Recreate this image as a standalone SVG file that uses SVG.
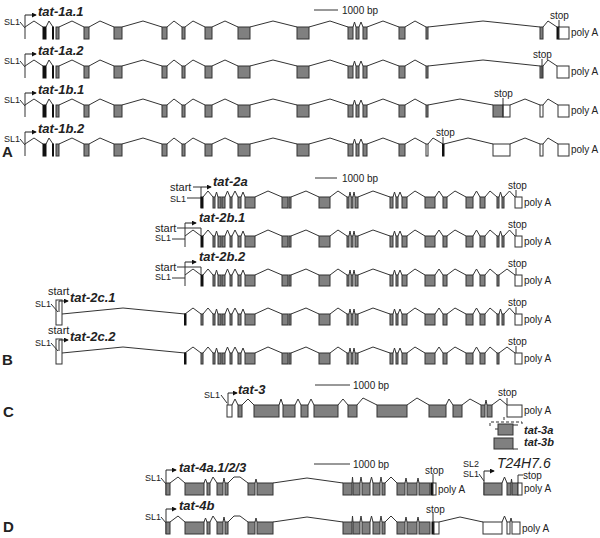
<svg xmlns="http://www.w3.org/2000/svg" width="600" height="538" viewBox="0 0 600 538">
<style>
.ln{fill:none;stroke:#333;stroke-width:1}
.ex{fill:#808080;stroke:#333;stroke-width:1}
.bk{fill:#111;stroke:#111;stroke-width:1}
.ut{fill:#fff;stroke:#333;stroke-width:1}
.dash{fill:none;stroke:#333;stroke-width:1;stroke-dasharray:3,2}
.ar{fill:none;stroke:#222;stroke-width:1;marker-end:url(#ah)}
text{font-family:"Liberation Sans",Arial,sans-serif;fill:#222}
.lab{font-size:13px;font-weight:bold;font-style:italic}
.sm{font-size:10px}
.sl{font-size:9px}
.st{font-size:11px}
.pl{font-size:15px;font-weight:bold}
</style>
<defs>
<marker id="ah" viewBox="0 0 6 6" refX="5" refY="3" markerWidth="5" markerHeight="5" orient="auto" markerUnits="userSpaceOnUse"><path d="M0,0 L6,3 L0,6 z" fill="#111"/></marker>
<g id="aCommon">
<text class="sl" x="4" y="-2">SL1</text>
<path class="ln" d="M20,-5 L25,1"/>
<path class="ln" d="M25,12 L25,-12"/>
<path class="ar" d="M25,-12 L36,-12"/>
<path class="ln" d="M25,0 L34,-6 L43,0 M46,0 L49,-6 L53,0 M59,0 L72,-6 L84,0 M89,0 L100,-6 L114,0 M122,0 L143,-6 L162,0 M167,0 L174,-6 L182,0 M185,0 L193,-6 L205,0 M212,0 L225,-6 L238,0 M250,0 L273,-6 L297,0 M309,0 L330,-6 L348,0 M353,0 L354.5,-5 L356,0 M359,0 L361,-5 L363,0 M367,0 L383,-6 L399,0 M405,0 L415,-6 L426,0"/>
<rect class="bk" x="43" y="0" width="3" height="12"/>
<rect class="bk" x="52.5" y="0" width="1" height="12"/>
<rect class="ex" x="56" y="0" width="3" height="12"/>
<rect class="ex" x="84" y="0" width="5" height="12"/>
<rect class="ex" x="114" y="0" width="8" height="12"/>
<rect class="ex" x="162" y="0" width="5" height="12"/>
<rect class="ex" x="182" y="0" width="3" height="12"/>
<rect class="ex" x="205" y="0" width="7" height="12"/>
<rect class="ex" x="238" y="0" width="12" height="12"/>
<rect class="ex" x="297" y="0" width="12" height="12"/>
<rect class="ex" x="348" y="0" width="5" height="12"/>
<rect class="ex" x="356" y="0" width="3" height="12"/>
<rect class="ex" x="363" y="0" width="4" height="12"/>
<rect class="ex" x="399" y="0" width="6" height="12"/>
<text class="sm" x="571" y="9">poly A</text>
</g>
<g id="bCommon">
<path class="ln" d="M203,0 L208,-6 L213,0 M215,0 L216.5,-5 L218,0 M225,0 L227.5,-6 L230,0 M232,0 L235,-6 L238,0 M241,0 L243,-5 L245,0 M255,0 L268,-6 L282,0 M291,0 L306,-6 L319,0 M330,0 L338,-6 L347,0 M349,0 L350,-5 L351,0 M353,0 L354,-5 L355,0 M358,0 L373,-6 L390,0 M393,0 L394.5,-5 L396,0 M398,0 L400,-5 L402,0 M407,0 L415,-6 L425,0 M435,0 L439,-6 L443,0 M447,0 L455,-6 L466,0 M473,0 L476.5,-6 L480,0 M485,0 L490,-6 L497,0"/>
<rect class="ex" x="213" y="0" width="2" height="11"/>
<rect class="ex" x="218" y="0" width="3" height="11"/>
<rect class="ex" x="222" y="0" width="3" height="11"/>
<rect class="ex" x="230" y="0" width="2" height="11"/>
<rect class="ex" x="238" y="0" width="3" height="11"/>
<rect class="ex" x="245" y="0" width="10" height="11"/>
<rect class="ex" x="282" y="0" width="6" height="11"/>
<rect class="ex" x="289" y="0" width="2" height="11"/>
<rect class="ex" x="319" y="0" width="11" height="11"/>
<rect class="ex" x="347" y="0" width="2" height="11"/>
<rect class="ex" x="351" y="0" width="2" height="11"/>
<rect class="ex" x="355" y="0" width="3" height="11"/>
<rect class="ex" x="390" y="0" width="3" height="11"/>
<rect class="ex" x="396" y="0" width="2" height="11"/>
<rect class="ex" x="402" y="0" width="5" height="11"/>
<rect class="ex" x="425" y="0" width="10" height="11"/>
<rect class="ex" x="443" y="0" width="4" height="11"/>
<rect class="ex" x="466" y="0" width="7" height="11"/>
<rect class="ex" x="480" y="0" width="5" height="11"/>
<rect class="ex" x="497" y="0" width="2" height="11"/>
<rect class="ut" x="515" y="0" width="7" height="11"/>
<path class="ln" d="M516,-7 L516,0"/>
<text class="sm" x="508" y="-8">stop</text>
<text class="sm" x="524" y="9">poly A</text>
</g>
<g id="bPair">
<path class="ln" d="M499,0 L500.5,-5 L502,0 M504,0 L509.5,-6 L515,0"/>
<rect class="ex" x="502" y="0" width="2" height="11"/>
</g>
<g id="bSingle">
<path class="ln" d="M499,0 L507,-6 L515,0"/>
</g>
<g id="dCommon">
<text class="sl" x="145" y="-2">SL1</text>
<path class="ln" d="M161,-5 L166,1"/>
<path class="ln" d="M166,12 L166,-13"/>
<path class="ar" d="M166,-13 L176,-13"/>
<path class="ln" d="M170,0 L178,-6 L185,0 M204,0 L205.5,-4 L207,0 M210,0 L213,-6 L217,0 M223,0 L224,-5 L225,0 M228,0 L234,-6 L240,-6 L248,0 M255,0 L256,-4 L257,0 M273,0 L307,-5 L343,0 M352,0 L352.5,-6 L353,0 M360,0 L361,-6 L362,0 M370,0 L371.5,-6 L373,0 M380,0 L381,-6 L382,0 M385,0 L391,-6 L397,0 M405,0 L406,-5 L407,0 M417,0 L418,-5 L419,0"/>
<rect class="ex" x="166" y="0" width="4" height="12"/>
<rect class="ex" x="185" y="0" width="19" height="12"/>
<rect class="ex" x="207" y="0" width="3" height="12"/>
<rect class="ex" x="217" y="0" width="6" height="12"/>
<rect class="ex" x="225" y="0" width="3" height="12"/>
<rect class="ex" x="248" y="0" width="7" height="12"/>
<rect class="ex" x="257" y="0" width="16" height="12"/>
<rect class="ex" x="343" y="0" width="9" height="12"/>
<rect class="ex" x="353" y="0" width="7" height="12"/>
<rect class="ex" x="362" y="0" width="8" height="12"/>
<rect class="ex" x="373" y="0" width="7" height="12"/>
<rect class="ex" x="382" y="0" width="3" height="12"/>
<rect class="ex" x="397" y="0" width="8" height="12"/>
<rect class="ex" x="407" y="0" width="10" height="12"/>
<rect class="ex" x="419" y="0" width="11" height="12"/>
</g>
</defs>

<g id="panel-labels">
<text class="pl" x="2" y="157">A</text>
<text class="pl" x="2" y="365">B</text>
<text class="pl" x="3" y="417">C</text>
<text class="pl" x="3" y="532">D</text>
</g>

<g id="scale-bars">
<path class="ln" d="M314,10 L338,10 M315,178 L337,178 M315,385 L350,385 M314,464 L350,464"/>
<text class="sm" x="342" y="14">1000 bp</text>
<text class="sm" x="342" y="182">1000 bp</text>
<text class="sm" x="353" y="389">1000 bp</text>
<text class="sm" x="353" y="468">1000 bp</text>
</g>

<!-- Panel A -->
<g id="tat-1a.1" transform="translate(0,27)">
<use href="#aCommon"/>
<text class="lab" x="38" y="-11">tat-1a.1</text>
<path class="ln" d="M428,0 L483,-6 L540,0 M543,0 L548,-6 L557,0 M559,-7 L559,0"/>
<rect class="ex" x="426" y="0" width="2" height="12"/>
<rect class="ex" x="540" y="0" width="3" height="12"/>
<rect class="bk" x="557" y="0" width="2" height="12"/>
<rect class="ut" x="559" y="0" width="10" height="12"/>
<text class="sm" x="550" y="-8">stop</text>
</g>
<g id="tat-1a.2" transform="translate(0,66)">
<use href="#aCommon"/>
<text class="lab" x="38" y="-11">tat-1a.2</text>
<path class="ln" d="M428,0 L483,-6 L540,0 M543,0 L548,-6 L557,0"/>
<rect class="ex" x="426" y="0" width="2" height="12"/>
<rect class="ex" x="540" y="0" width="3" height="12"/>
<path class="ln" d="M542,-7 L542,12"/>
<rect class="ut" x="557" y="0" width="12" height="12"/>
<text class="sm" x="533" y="-8">stop</text>
</g>
<g id="tat-1b.1" transform="translate(0,105)">
<use href="#aCommon"/>
<text class="lab" x="38" y="-11">tat-1b.1</text>
<path class="ln" d="M428,0 L460,-6 L493,0 M510,0 L525,-6 L540,0 M543,0 L548,-6 L558,0"/>
<rect class="ex" x="426" y="0" width="2" height="12"/>
<rect class="ex" x="493" y="0" width="10" height="12"/>
<rect class="ut" x="503" y="0" width="7" height="12"/>
<path class="ln" d="M503,-7 L503,12"/>
<rect class="ut" x="540" y="0" width="3" height="12"/>
<rect class="ut" x="558" y="0" width="11" height="12"/>
<text class="sm" x="494" y="-8">stop</text>
</g>
<g id="tat-1b.2" transform="translate(0,144)">
<use href="#aCommon"/>
<text class="lab" x="38" y="-11">tat-1b.2</text>
<path class="ln" d="M428,0 L433,-6 L443,0 M444,0 L468,-6 L493,0 M510,0 L525,-6 L540,0 M543,0 L548,-6 L558,0"/>
<rect class="ut" x="426" y="0" width="2" height="12"/>
<rect class="bk" x="442.5" y="0" width="1.5" height="12"/>
<path class="ln" d="M443,-7 L443,0"/>
<rect class="ut" x="493" y="0" width="17" height="12"/>
<rect class="ut" x="540" y="0" width="3" height="12"/>
<rect class="ut" x="558" y="0" width="11" height="12"/>
<text class="sm" x="436" y="-8">stop</text>
</g>

<!-- Panel B -->
<g id="tat-2a" transform="translate(0,197)">
<use href="#bCommon"/>
<use href="#bPair"/>
<text class="st" x="170" y="-6">start</text>
<text class="sl" x="170" y="5">SL1</text>
<path class="ln" d="M193,-10 L201,-10 M187,1 L201,1 M201,11 L201,-10"/>
<path class="ar" d="M201,-10 L211,-10"/>
<rect class="bk" x="201" y="0" width="2" height="11"/>
<text class="lab" x="213" y="-11">tat-2a</text>
</g>
<g id="tat-2b.1" transform="translate(0,236)">
<use href="#bCommon"/>
<use href="#bPair"/>
<text class="st" x="155" y="-4">start</text>
<text class="sl" x="155" y="5">SL1</text>
<path class="ln" d="M177,-8 L201,-8 L201,0 M172,3 L185,3 M185,11 L185,-13 M185,0 L193,-6 L201,0"/>
<path class="ar" d="M185,-13 L196,-13"/>
<rect class="bk" x="201" y="0" width="2" height="11"/>
<text class="lab" x="199" y="-14">tat-2b.1</text>
</g>
<g id="tat-2b.2" transform="translate(0,275)">
<use href="#bCommon"/>
<use href="#bSingle"/>
<text class="st" x="155" y="-4">start</text>
<text class="sl" x="155" y="5">SL1</text>
<path class="ln" d="M177,-8 L201,-8 L201,0 M172,3 L185,3 M185,11 L185,-13 M185,0 L193,-6 L201,0"/>
<path class="ar" d="M185,-13 L196,-13"/>
<rect class="bk" x="201" y="0" width="2" height="11"/>
<text class="lab" x="199" y="-14">tat-2b.2</text>
</g>
<g id="tat-2c.1" transform="translate(0,314)">
<use href="#bCommon"/>
<use href="#bPair"/>
<text class="st" x="48" y="-19">start</text>
<text class="sl" x="35" y="-7">SL1</text>
<rect class="ut" x="56" y="-14" width="6" height="25"/>
<path class="ln" d="M59,-13 L59,-2 M51,-10 L58,-2 M62,0 L123,-6 L185,0 M185,0 L193,-6 L201,0"/>
<path class="ar" d="M59,-13 L68,-13"/>
<rect class="bk" x="184.5" y="0" width="1.5" height="11"/>
<rect class="ex" x="201" y="0" width="2" height="11"/>
<text class="lab" x="70" y="-12">tat-2c.1</text>
</g>
<g id="tat-2c.2" transform="translate(0,353)">
<use href="#bCommon"/>
<use href="#bSingle"/>
<text class="st" x="48" y="-19">start</text>
<text class="sl" x="35" y="-7">SL1</text>
<rect class="ut" x="56" y="-14" width="6" height="25"/>
<path class="ln" d="M59,-13 L59,-2 M51,-10 L58,-2 M62,0 L123,-6 L185,0 M185,0 L193,-6 L201,0"/>
<path class="ar" d="M59,-13 L68,-13"/>
<rect class="bk" x="184.5" y="0" width="1.5" height="11"/>
<rect class="ex" x="201" y="0" width="2" height="11"/>
<text class="lab" x="70" y="-12">tat-2c.2</text>
</g>

<!-- Panel C -->
<g id="tat-3">
<text class="sl" x="204" y="398">SL1</text>
<path class="ln" d="M221,395 L227,403 M228,417 L228,393"/>
<path class="ar" d="M228,393 L237,393"/>
<text class="lab" x="238" y="394">tat-3</text>
<path class="ln" d="M232,405 L235,399 L238,405 M242,405 L248,399 L254,405 M279,405 L281,399 L283,405 M295,405 L298,399 L301,405 M308,405 L311,399 L314,405 M338,405 L343,399 L348,405 M357,405 L363,398 L377,405 M407,405 L417,398 L429,405 M446,405 L449,399 L453,405 M462,405 L470,399 L481,405 M485,405 L486,400 L487,405 M492,405 L500,399 L507,405 M507,398 L507,405"/>
<rect class="ut" x="227" y="405" width="5" height="12"/>
<rect class="ex" x="238" y="405" width="4" height="12"/>
<rect class="ex" x="254" y="405" width="25" height="12"/>
<rect class="ex" x="283" y="405" width="12" height="12"/>
<rect class="ex" x="301" y="405" width="7" height="12"/>
<rect class="ex" x="314" y="405" width="24" height="12"/>
<rect class="ex" x="348" y="405" width="9" height="12"/>
<rect class="ex" x="377" y="405" width="30" height="12"/>
<rect class="ex" x="429" y="405" width="17" height="12"/>
<rect class="ex" x="453" y="405" width="9" height="12"/>
<rect class="ex" x="481" y="405" width="4" height="12"/>
<rect class="ex" x="487" y="405" width="5" height="12"/>
<rect class="ut" x="507" y="405" width="15" height="12"/>
<text class="sm" x="498" y="396">stop</text>
<text class="sm" x="524" y="414">poly A</text>
<path class="dash" d="M490,426 L490,422 L522,422 L522,426 M504,417 L504,422"/>
</g>
<g id="tat-3a">
<path class="ln" d="M495,429 L498,429 M513,425 L518,425"/>
<rect class="ex" x="498" y="424" width="15" height="11"/>
<text class="lab" x="524" y="434" style="font-size:11px">tat-3a</text>
</g>
<g id="tat-3b">
<path class="ln" d="M513,449 L518,449"/>
<rect class="ex" x="494" y="438" width="19" height="11"/>
<text class="lab" x="524" y="446" style="font-size:11px">tat-3b</text>
</g>

<!-- Panel D -->
<g id="tat-4a" transform="translate(0,483)">
<use href="#dCommon"/>
<text class="lab" x="179" y="-11">tat-4a.1/2/3</text>
<rect class="bk" x="431" y="0" width="2" height="12"/>
<rect class="ut" x="433" y="0" width="3" height="12"/>
<path class="ln" d="M433,-9 L433,0"/>
<text class="sm" x="425" y="-9">stop</text>
<text class="sm" x="438" y="10">poly A</text>
</g>
<g id="T24H7.6" transform="translate(0,483)">
<text class="sl" x="463" y="-16">SL2</text>
<text class="sl" x="463" y="-6">SL1</text>
<path class="ln" d="M479,-9 L484,-2 M484,12 L484,-12 M502,0 L504.5,-6 L507,0 M511,0 L511.5,-4 L512,0 M523,-8 L518,-8 L518,0"/>
<path class="ar" d="M484,-12 L494,-12"/>
<text x="497" y="-15" style="font-size:14px;font-style:italic">T24H7.6</text>
<rect class="ex" x="484" y="0" width="18" height="12"/>
<rect class="ex" x="507" y="0" width="4" height="12"/>
<rect class="ex" x="512" y="0" width="6" height="12"/>
<rect class="ut" x="518" y="0" width="4" height="12"/>
<text class="sm" x="523" y="-4">stop</text>
<text class="sm" x="524" y="9">poly A</text>
</g>
<g id="tat-4b" transform="translate(0,522)">
<use href="#dCommon"/>
<text class="lab" x="179" y="-12">tat-4b</text>
<rect class="bk" x="432" y="0" width="2" height="12"/>
<path class="ln" d="M433,-9 L433,0 M439,0 L460,-5 L483,0 M502,0 L504.5,-6 L507,0 M510,0 L511,-4 L512,0"/>
<rect class="ut" x="434" y="0" width="5" height="12"/>
<rect class="ut" x="483" y="0" width="19" height="12"/>
<rect class="ut" x="507" y="0" width="3" height="12"/>
<rect class="ut" x="512" y="0" width="8" height="12"/>
<text class="sm" x="426" y="-9">stop</text>
<text class="sm" x="522" y="10">poly A</text>
</g>
</svg>
